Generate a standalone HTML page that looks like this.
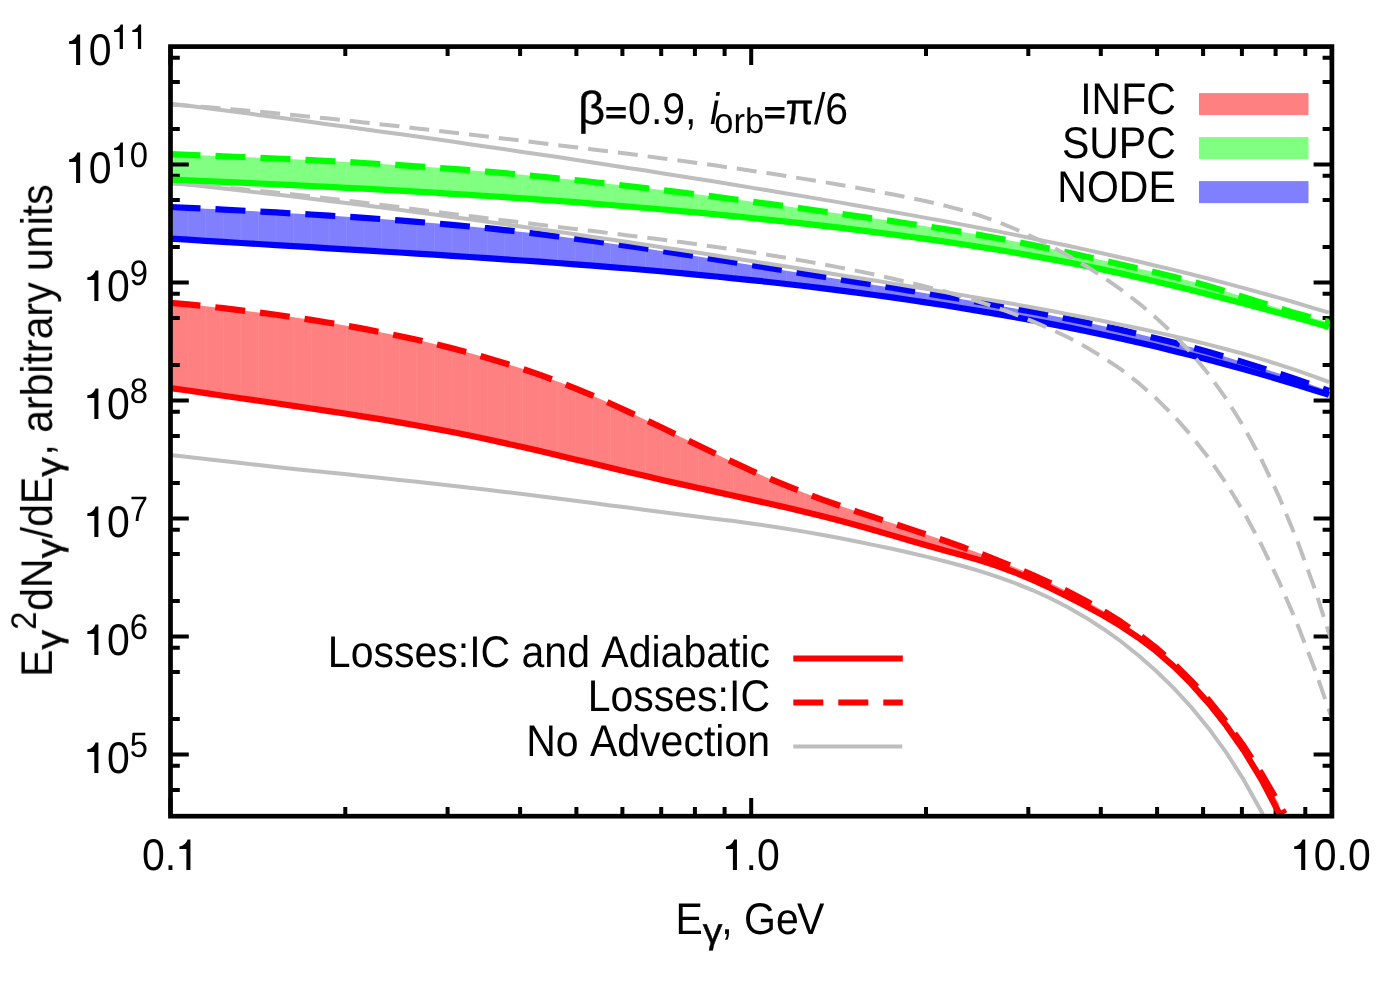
<!DOCTYPE html>
<html><head><meta charset="utf-8"><title>plot</title>
<style>html,body{margin:0;padding:0;background:#fff}svg{display:block}</style>
</head><body>
<svg width="1400" height="1000" viewBox="0 0 1400 1000">
<rect width="1400" height="1000" fill="#fff"/>
<defs>
<clipPath id="cp"><rect x="170.5" y="46.6" width="1161.4" height="769.6"/></clipPath>
<clipPath id="f0"><path d="M170.5,302.8 L188.1,304.4 L205.7,306.2 L223.3,308.2 L240.9,310.3 L258.5,312.5 L276.1,314.8 L293.7,317.3 L311.3,319.9 L328.9,322.7 L346.5,325.7 L364.1,328.9 L381.7,332.4 L399.3,336.0 L416.9,339.8 L434.5,343.9 L452.1,348.3 L469.6,352.9 L487.2,357.9 L504.8,363.2 L522.4,368.8 L540.0,374.9 L557.6,381.4 L575.2,388.3 L592.8,395.7 L610.4,403.5 L628.0,411.6 L645.6,419.9 L663.2,428.3 L680.8,436.9 L698.4,445.5 L716.0,454.0 L733.6,462.4 L751.2,470.6 L768.8,478.4 L786.4,485.7 L804.0,492.7 L821.6,499.3 L839.2,505.5 L856.8,511.6 L874.4,517.4 L892.0,523.1 L909.6,528.9 L927.2,534.8 L944.8,540.8 L962.4,547.0 L980.0,553.5 L997.6,560.3 L1015.2,567.5 L1032.8,575.0 L1050.3,583.0 L1067.9,591.5 L1085.5,600.7 L1103.1,610.7 L1120.7,621.7 L1138.3,634.0 L1155.9,647.7 L1173.5,663.2 L1191.1,680.6 L1208.7,700.1 L1226.3,721.9 L1243.9,746.4 L1261.5,773.6 L1279.1,803.9 L1280.0,814.9 L1279.1,813.1 L1261.5,779.6 L1243.9,750.7 L1226.3,725.6 L1208.7,703.4 L1191.1,683.6 L1173.5,666.1 L1155.9,650.9 L1138.3,637.6 L1120.7,625.9 L1103.1,615.4 L1085.5,605.8 L1067.9,596.7 L1050.3,588.0 L1032.8,579.9 L1015.2,572.5 L997.6,566.0 L980.0,560.3 L962.4,555.2 L944.8,550.5 L927.2,545.6 L909.6,540.5 L892.0,535.4 L874.4,530.2 L856.8,525.3 L839.2,520.6 L821.6,516.1 L804.0,511.8 L786.4,507.6 L768.8,503.6 L751.2,499.6 L733.6,495.8 L716.0,491.9 L698.4,488.0 L680.8,484.1 L663.2,480.2 L645.6,476.1 L628.0,472.0 L610.4,467.8 L592.8,463.6 L575.2,459.4 L557.6,455.2 L540.0,451.1 L522.4,447.0 L504.8,443.1 L487.2,439.2 L469.6,435.5 L452.1,432.0 L434.5,428.7 L416.9,425.5 L399.3,422.4 L381.7,419.4 L364.1,416.6 L346.5,413.8 L328.9,411.1 L311.3,408.5 L293.7,405.9 L276.1,403.3 L258.5,400.8 L240.9,398.3 L223.3,395.7 L205.7,393.1 L188.1,390.5 L170.5,388.1Z"/></clipPath>
<clipPath id="f1"><path d="M170.5,154.2 L188.1,154.8 L205.7,155.5 L223.3,156.3 L240.9,157.0 L258.5,157.7 L276.1,158.5 L293.7,159.3 L311.3,160.2 L328.9,161.1 L346.5,162.0 L364.1,163.0 L381.7,164.1 L399.3,165.2 L416.9,166.3 L434.5,167.6 L452.1,168.8 L469.6,170.2 L487.2,171.7 L504.8,173.2 L522.4,174.8 L540.0,176.5 L557.6,178.3 L575.2,180.1 L592.8,182.0 L610.4,184.0 L628.0,186.0 L645.6,188.1 L663.2,190.2 L680.8,192.4 L698.4,194.6 L716.0,196.9 L733.6,199.2 L751.2,201.6 L768.8,203.9 L786.4,206.3 L804.0,208.7 L821.6,211.2 L839.2,213.6 L856.8,216.1 L874.4,218.6 L892.0,221.1 L909.6,223.7 L927.2,226.4 L944.8,229.1 L962.4,232.0 L980.0,235.1 L997.6,238.2 L1015.2,241.6 L1032.8,245.1 L1050.3,248.8 L1067.9,252.6 L1085.5,256.5 L1103.1,260.4 L1120.7,264.4 L1138.3,268.4 L1155.9,272.4 L1173.5,276.7 L1191.1,281.3 L1208.7,286.2 L1226.3,291.5 L1243.9,297.1 L1261.5,302.7 L1279.1,308.3 L1296.7,313.6 L1314.3,318.4 L1329.0,321.9 L1329.0,327.0 L1314.3,322.7 L1296.7,317.8 L1279.1,312.9 L1261.5,308.2 L1243.9,303.6 L1226.3,299.0 L1208.7,294.5 L1191.1,290.1 L1173.5,285.8 L1155.9,281.5 L1138.3,277.4 L1120.7,273.4 L1103.1,269.6 L1085.5,265.9 L1067.9,262.4 L1050.3,259.1 L1032.8,255.9 L1015.2,252.8 L997.6,249.8 L980.0,247.0 L962.4,244.2 L944.8,241.6 L927.2,239.1 L909.6,236.7 L892.0,234.3 L874.4,232.1 L856.8,229.9 L839.2,227.7 L821.6,225.7 L804.0,223.7 L786.4,221.7 L768.8,219.8 L751.2,218.0 L733.6,216.2 L716.0,214.4 L698.4,212.7 L680.8,211.1 L663.2,209.5 L645.6,208.0 L628.0,206.5 L610.4,205.0 L592.8,203.6 L575.2,202.2 L557.6,200.9 L540.0,199.6 L522.4,198.4 L504.8,197.2 L487.2,196.0 L469.6,194.9 L452.1,193.8 L434.5,192.7 L416.9,191.6 L399.3,190.6 L381.7,189.6 L364.1,188.7 L346.5,187.8 L328.9,186.9 L311.3,186.0 L293.7,185.1 L276.1,184.3 L258.5,183.5 L240.9,182.7 L223.3,181.9 L205.7,181.1 L188.1,180.4 L170.5,179.7Z"/></clipPath>
<clipPath id="f2"><path d="M170.5,207.0 L188.1,207.8 L205.7,208.7 L223.3,209.6 L240.9,210.5 L258.5,211.5 L276.1,212.4 L293.7,213.5 L311.3,214.5 L328.9,215.6 L346.5,216.7 L364.1,217.9 L381.7,219.1 L399.3,220.4 L416.9,221.8 L434.5,223.3 L452.1,224.8 L469.6,226.5 L487.2,228.2 L504.8,230.1 L522.4,232.0 L540.0,234.1 L557.6,236.3 L575.2,238.6 L592.8,241.0 L610.4,243.4 L628.0,245.9 L645.6,248.5 L663.2,251.2 L680.8,253.9 L698.4,256.6 L716.0,259.4 L733.6,262.2 L751.2,265.0 L768.8,267.9 L786.4,270.7 L804.0,273.6 L821.6,276.5 L839.2,279.3 L856.8,282.1 L874.4,284.9 L892.0,287.8 L909.6,290.6 L927.2,293.5 L944.8,296.4 L962.4,299.3 L980.0,302.3 L997.6,305.4 L1015.2,308.6 L1032.8,311.8 L1050.3,315.2 L1067.9,318.7 L1085.5,322.3 L1103.1,326.0 L1120.7,329.9 L1138.3,334.0 L1155.9,338.2 L1173.5,342.6 L1191.1,347.2 L1208.7,352.0 L1226.3,357.1 L1243.9,362.4 L1261.5,367.9 L1279.1,373.6 L1296.7,379.5 L1314.3,385.7 L1329.0,390.9 L1329.0,394.9 L1314.3,390.2 L1296.7,384.7 L1279.1,379.4 L1261.5,374.3 L1243.9,369.3 L1226.3,364.5 L1208.7,359.8 L1191.1,355.3 L1173.5,350.9 L1155.9,346.6 L1138.3,342.5 L1120.7,338.5 L1103.1,334.7 L1085.5,331.0 L1067.9,327.4 L1050.3,323.9 L1032.8,320.5 L1015.2,317.3 L997.6,314.1 L980.0,311.1 L962.4,308.2 L944.8,305.3 L927.2,302.6 L909.6,300.0 L892.0,297.4 L874.4,295.0 L856.8,292.6 L839.2,290.3 L821.6,288.1 L804.0,286.0 L786.4,284.0 L768.8,282.0 L751.2,280.1 L733.6,278.3 L716.0,276.5 L698.4,274.8 L680.8,273.1 L663.2,271.5 L645.6,270.0 L628.0,268.5 L610.4,267.1 L592.8,265.7 L575.2,264.3 L557.6,263.0 L540.0,261.7 L522.4,260.5 L504.8,259.3 L487.2,258.1 L469.6,257.0 L452.1,255.8 L434.5,254.7 L416.9,253.6 L399.3,252.5 L381.7,251.5 L364.1,250.4 L346.5,249.3 L328.9,248.3 L311.3,247.2 L293.7,246.2 L276.1,245.1 L258.5,244.0 L240.9,243.0 L223.3,241.9 L205.7,240.8 L188.1,239.6 L170.5,238.6Z"/></clipPath>
</defs>
<g clip-path="url(#cp)">
<path d="M170.5,302.8 L188.1,304.4 L205.7,306.2 L223.3,308.2 L240.9,310.3 L258.5,312.5 L276.1,314.8 L293.7,317.3 L311.3,319.9 L328.9,322.7 L346.5,325.7 L364.1,328.9 L381.7,332.4 L399.3,336.0 L416.9,339.8 L434.5,343.9 L452.1,348.3 L469.6,352.9 L487.2,357.9 L504.8,363.2 L522.4,368.8 L540.0,374.9 L557.6,381.4 L575.2,388.3 L592.8,395.7 L610.4,403.5 L628.0,411.6 L645.6,419.9 L663.2,428.3 L680.8,436.9 L698.4,445.5 L716.0,454.0 L733.6,462.4 L751.2,470.6 L768.8,478.4 L786.4,485.7 L804.0,492.7 L821.6,499.3 L839.2,505.5 L856.8,511.6 L874.4,517.4 L892.0,523.1 L909.6,528.9 L927.2,534.8 L944.8,540.8 L962.4,547.0 L980.0,553.5 L997.6,560.3 L1015.2,567.5 L1032.8,575.0 L1050.3,583.0 L1067.9,591.5 L1085.5,600.7 L1103.1,610.7 L1120.7,621.7 L1138.3,634.0 L1155.9,647.7 L1173.5,663.2 L1191.1,680.6 L1208.7,700.1 L1226.3,721.9 L1243.9,746.4 L1261.5,773.6 L1279.1,803.9 L1280.0,814.9 L1279.1,813.1 L1261.5,779.6 L1243.9,750.7 L1226.3,725.6 L1208.7,703.4 L1191.1,683.6 L1173.5,666.1 L1155.9,650.9 L1138.3,637.6 L1120.7,625.9 L1103.1,615.4 L1085.5,605.8 L1067.9,596.7 L1050.3,588.0 L1032.8,579.9 L1015.2,572.5 L997.6,566.0 L980.0,560.3 L962.4,555.2 L944.8,550.5 L927.2,545.6 L909.6,540.5 L892.0,535.4 L874.4,530.2 L856.8,525.3 L839.2,520.6 L821.6,516.1 L804.0,511.8 L786.4,507.6 L768.8,503.6 L751.2,499.6 L733.6,495.8 L716.0,491.9 L698.4,488.0 L680.8,484.1 L663.2,480.2 L645.6,476.1 L628.0,472.0 L610.4,467.8 L592.8,463.6 L575.2,459.4 L557.6,455.2 L540.0,451.1 L522.4,447.0 L504.8,443.1 L487.2,439.2 L469.6,435.5 L452.1,432.0 L434.5,428.7 L416.9,425.5 L399.3,422.4 L381.7,419.4 L364.1,416.6 L346.5,413.8 L328.9,411.1 L311.3,408.5 L293.7,405.9 L276.1,403.3 L258.5,400.8 L240.9,398.3 L223.3,395.7 L205.7,393.1 L188.1,390.5 L170.5,388.1Z" fill="#ff8080"/>
<path d="M188.1,46.6V816.2 M205.7,46.6V816.2 M223.3,46.6V816.2 M240.9,46.6V816.2 M258.5,46.6V816.2 M276.1,46.6V816.2 M293.7,46.6V816.2 M311.3,46.6V816.2 M328.9,46.6V816.2 M346.5,46.6V816.2 M364.1,46.6V816.2 M381.7,46.6V816.2 M399.3,46.6V816.2 M416.9,46.6V816.2 M434.5,46.6V816.2 M452.1,46.6V816.2 M469.6,46.6V816.2 M487.2,46.6V816.2 M504.8,46.6V816.2 M522.4,46.6V816.2 M540.0,46.6V816.2 M557.6,46.6V816.2 M575.2,46.6V816.2 M592.8,46.6V816.2 M610.4,46.6V816.2 M628.0,46.6V816.2 M645.6,46.6V816.2 M663.2,46.6V816.2 M680.8,46.6V816.2 M698.4,46.6V816.2 M716.0,46.6V816.2 M733.6,46.6V816.2 M751.2,46.6V816.2 M768.8,46.6V816.2 M786.4,46.6V816.2 M804.0,46.6V816.2 M821.6,46.6V816.2 M839.2,46.6V816.2 M856.8,46.6V816.2 M874.4,46.6V816.2 M892.0,46.6V816.2 M909.6,46.6V816.2 M927.2,46.6V816.2 M944.8,46.6V816.2 M962.4,46.6V816.2 M980.0,46.6V816.2 M997.6,46.6V816.2 M1015.2,46.6V816.2 M1032.8,46.6V816.2 M1050.3,46.6V816.2 M1067.9,46.6V816.2 M1085.5,46.6V816.2 M1103.1,46.6V816.2 M1120.7,46.6V816.2 M1138.3,46.6V816.2 M1155.9,46.6V816.2 M1173.5,46.6V816.2 M1191.1,46.6V816.2 M1208.7,46.6V816.2 M1226.3,46.6V816.2 M1243.9,46.6V816.2 M1261.5,46.6V816.2 M1279.1,46.6V816.2 M1296.7,46.6V816.2 M1314.3,46.6V816.2" stroke="#fff" stroke-opacity="0.07" stroke-width="1" fill="none" clip-path="url(#f0)"/>
<path d="M170.5,154.2 L188.1,154.8 L205.7,155.5 L223.3,156.3 L240.9,157.0 L258.5,157.7 L276.1,158.5 L293.7,159.3 L311.3,160.2 L328.9,161.1 L346.5,162.0 L364.1,163.0 L381.7,164.1 L399.3,165.2 L416.9,166.3 L434.5,167.6 L452.1,168.8 L469.6,170.2 L487.2,171.7 L504.8,173.2 L522.4,174.8 L540.0,176.5 L557.6,178.3 L575.2,180.1 L592.8,182.0 L610.4,184.0 L628.0,186.0 L645.6,188.1 L663.2,190.2 L680.8,192.4 L698.4,194.6 L716.0,196.9 L733.6,199.2 L751.2,201.6 L768.8,203.9 L786.4,206.3 L804.0,208.7 L821.6,211.2 L839.2,213.6 L856.8,216.1 L874.4,218.6 L892.0,221.1 L909.6,223.7 L927.2,226.4 L944.8,229.1 L962.4,232.0 L980.0,235.1 L997.6,238.2 L1015.2,241.6 L1032.8,245.1 L1050.3,248.8 L1067.9,252.6 L1085.5,256.5 L1103.1,260.4 L1120.7,264.4 L1138.3,268.4 L1155.9,272.4 L1173.5,276.7 L1191.1,281.3 L1208.7,286.2 L1226.3,291.5 L1243.9,297.1 L1261.5,302.7 L1279.1,308.3 L1296.7,313.6 L1314.3,318.4 L1329.0,321.9 L1329.0,327.0 L1314.3,322.7 L1296.7,317.8 L1279.1,312.9 L1261.5,308.2 L1243.9,303.6 L1226.3,299.0 L1208.7,294.5 L1191.1,290.1 L1173.5,285.8 L1155.9,281.5 L1138.3,277.4 L1120.7,273.4 L1103.1,269.6 L1085.5,265.9 L1067.9,262.4 L1050.3,259.1 L1032.8,255.9 L1015.2,252.8 L997.6,249.8 L980.0,247.0 L962.4,244.2 L944.8,241.6 L927.2,239.1 L909.6,236.7 L892.0,234.3 L874.4,232.1 L856.8,229.9 L839.2,227.7 L821.6,225.7 L804.0,223.7 L786.4,221.7 L768.8,219.8 L751.2,218.0 L733.6,216.2 L716.0,214.4 L698.4,212.7 L680.8,211.1 L663.2,209.5 L645.6,208.0 L628.0,206.5 L610.4,205.0 L592.8,203.6 L575.2,202.2 L557.6,200.9 L540.0,199.6 L522.4,198.4 L504.8,197.2 L487.2,196.0 L469.6,194.9 L452.1,193.8 L434.5,192.7 L416.9,191.6 L399.3,190.6 L381.7,189.6 L364.1,188.7 L346.5,187.8 L328.9,186.9 L311.3,186.0 L293.7,185.1 L276.1,184.3 L258.5,183.5 L240.9,182.7 L223.3,181.9 L205.7,181.1 L188.1,180.4 L170.5,179.7Z" fill="#80ff80"/>
<path d="M188.1,46.6V816.2 M205.7,46.6V816.2 M223.3,46.6V816.2 M240.9,46.6V816.2 M258.5,46.6V816.2 M276.1,46.6V816.2 M293.7,46.6V816.2 M311.3,46.6V816.2 M328.9,46.6V816.2 M346.5,46.6V816.2 M364.1,46.6V816.2 M381.7,46.6V816.2 M399.3,46.6V816.2 M416.9,46.6V816.2 M434.5,46.6V816.2 M452.1,46.6V816.2 M469.6,46.6V816.2 M487.2,46.6V816.2 M504.8,46.6V816.2 M522.4,46.6V816.2 M540.0,46.6V816.2 M557.6,46.6V816.2 M575.2,46.6V816.2 M592.8,46.6V816.2 M610.4,46.6V816.2 M628.0,46.6V816.2 M645.6,46.6V816.2 M663.2,46.6V816.2 M680.8,46.6V816.2 M698.4,46.6V816.2 M716.0,46.6V816.2 M733.6,46.6V816.2 M751.2,46.6V816.2 M768.8,46.6V816.2 M786.4,46.6V816.2 M804.0,46.6V816.2 M821.6,46.6V816.2 M839.2,46.6V816.2 M856.8,46.6V816.2 M874.4,46.6V816.2 M892.0,46.6V816.2 M909.6,46.6V816.2 M927.2,46.6V816.2 M944.8,46.6V816.2 M962.4,46.6V816.2 M980.0,46.6V816.2 M997.6,46.6V816.2 M1015.2,46.6V816.2 M1032.8,46.6V816.2 M1050.3,46.6V816.2 M1067.9,46.6V816.2 M1085.5,46.6V816.2 M1103.1,46.6V816.2 M1120.7,46.6V816.2 M1138.3,46.6V816.2 M1155.9,46.6V816.2 M1173.5,46.6V816.2 M1191.1,46.6V816.2 M1208.7,46.6V816.2 M1226.3,46.6V816.2 M1243.9,46.6V816.2 M1261.5,46.6V816.2 M1279.1,46.6V816.2 M1296.7,46.6V816.2 M1314.3,46.6V816.2" stroke="#fff" stroke-opacity="0.07" stroke-width="1" fill="none" clip-path="url(#f1)"/>
<path d="M170.5,207.0 L188.1,207.8 L205.7,208.7 L223.3,209.6 L240.9,210.5 L258.5,211.5 L276.1,212.4 L293.7,213.5 L311.3,214.5 L328.9,215.6 L346.5,216.7 L364.1,217.9 L381.7,219.1 L399.3,220.4 L416.9,221.8 L434.5,223.3 L452.1,224.8 L469.6,226.5 L487.2,228.2 L504.8,230.1 L522.4,232.0 L540.0,234.1 L557.6,236.3 L575.2,238.6 L592.8,241.0 L610.4,243.4 L628.0,245.9 L645.6,248.5 L663.2,251.2 L680.8,253.9 L698.4,256.6 L716.0,259.4 L733.6,262.2 L751.2,265.0 L768.8,267.9 L786.4,270.7 L804.0,273.6 L821.6,276.5 L839.2,279.3 L856.8,282.1 L874.4,284.9 L892.0,287.8 L909.6,290.6 L927.2,293.5 L944.8,296.4 L962.4,299.3 L980.0,302.3 L997.6,305.4 L1015.2,308.6 L1032.8,311.8 L1050.3,315.2 L1067.9,318.7 L1085.5,322.3 L1103.1,326.0 L1120.7,329.9 L1138.3,334.0 L1155.9,338.2 L1173.5,342.6 L1191.1,347.2 L1208.7,352.0 L1226.3,357.1 L1243.9,362.4 L1261.5,367.9 L1279.1,373.6 L1296.7,379.5 L1314.3,385.7 L1329.0,390.9 L1329.0,394.9 L1314.3,390.2 L1296.7,384.7 L1279.1,379.4 L1261.5,374.3 L1243.9,369.3 L1226.3,364.5 L1208.7,359.8 L1191.1,355.3 L1173.5,350.9 L1155.9,346.6 L1138.3,342.5 L1120.7,338.5 L1103.1,334.7 L1085.5,331.0 L1067.9,327.4 L1050.3,323.9 L1032.8,320.5 L1015.2,317.3 L997.6,314.1 L980.0,311.1 L962.4,308.2 L944.8,305.3 L927.2,302.6 L909.6,300.0 L892.0,297.4 L874.4,295.0 L856.8,292.6 L839.2,290.3 L821.6,288.1 L804.0,286.0 L786.4,284.0 L768.8,282.0 L751.2,280.1 L733.6,278.3 L716.0,276.5 L698.4,274.8 L680.8,273.1 L663.2,271.5 L645.6,270.0 L628.0,268.5 L610.4,267.1 L592.8,265.7 L575.2,264.3 L557.6,263.0 L540.0,261.7 L522.4,260.5 L504.8,259.3 L487.2,258.1 L469.6,257.0 L452.1,255.8 L434.5,254.7 L416.9,253.6 L399.3,252.5 L381.7,251.5 L364.1,250.4 L346.5,249.3 L328.9,248.3 L311.3,247.2 L293.7,246.2 L276.1,245.1 L258.5,244.0 L240.9,243.0 L223.3,241.9 L205.7,240.8 L188.1,239.6 L170.5,238.6Z" fill="#8080ff"/>
<path d="M188.1,46.6V816.2 M205.7,46.6V816.2 M223.3,46.6V816.2 M240.9,46.6V816.2 M258.5,46.6V816.2 M276.1,46.6V816.2 M293.7,46.6V816.2 M311.3,46.6V816.2 M328.9,46.6V816.2 M346.5,46.6V816.2 M364.1,46.6V816.2 M381.7,46.6V816.2 M399.3,46.6V816.2 M416.9,46.6V816.2 M434.5,46.6V816.2 M452.1,46.6V816.2 M469.6,46.6V816.2 M487.2,46.6V816.2 M504.8,46.6V816.2 M522.4,46.6V816.2 M540.0,46.6V816.2 M557.6,46.6V816.2 M575.2,46.6V816.2 M592.8,46.6V816.2 M610.4,46.6V816.2 M628.0,46.6V816.2 M645.6,46.6V816.2 M663.2,46.6V816.2 M680.8,46.6V816.2 M698.4,46.6V816.2 M716.0,46.6V816.2 M733.6,46.6V816.2 M751.2,46.6V816.2 M768.8,46.6V816.2 M786.4,46.6V816.2 M804.0,46.6V816.2 M821.6,46.6V816.2 M839.2,46.6V816.2 M856.8,46.6V816.2 M874.4,46.6V816.2 M892.0,46.6V816.2 M909.6,46.6V816.2 M927.2,46.6V816.2 M944.8,46.6V816.2 M962.4,46.6V816.2 M980.0,46.6V816.2 M997.6,46.6V816.2 M1015.2,46.6V816.2 M1032.8,46.6V816.2 M1050.3,46.6V816.2 M1067.9,46.6V816.2 M1085.5,46.6V816.2 M1103.1,46.6V816.2 M1120.7,46.6V816.2 M1138.3,46.6V816.2 M1155.9,46.6V816.2 M1173.5,46.6V816.2 M1191.1,46.6V816.2 M1208.7,46.6V816.2 M1226.3,46.6V816.2 M1243.9,46.6V816.2 M1261.5,46.6V816.2 M1279.1,46.6V816.2 M1296.7,46.6V816.2 M1314.3,46.6V816.2" stroke="#fff" stroke-opacity="0.07" stroke-width="1" fill="none" clip-path="url(#f2)"/>
</g>
<path d="M170.5,754.4h18.3 M1331.9,754.4h-18.3 M170.5,789.9h9.3 M1331.9,789.9h-9.3 M170.5,765.8h9.3 M1331.9,765.8h-9.3 M170.5,636.4h18.3 M1331.9,636.4h-18.3 M170.5,718.9h9.3 M1331.9,718.9h-9.3 M170.5,671.9h9.3 M1331.9,671.9h-9.3 M170.5,647.8h9.3 M1331.9,647.8h-9.3 M170.5,518.4h18.3 M1331.9,518.4h-18.3 M170.5,600.9h9.3 M1331.9,600.9h-9.3 M170.5,553.9h9.3 M1331.9,553.9h-9.3 M170.5,529.8h9.3 M1331.9,529.8h-9.3 M170.5,400.4h18.3 M1331.9,400.4h-18.3 M170.5,482.9h9.3 M1331.9,482.9h-9.3 M170.5,435.9h9.3 M1331.9,435.9h-9.3 M170.5,411.8h9.3 M1331.9,411.8h-9.3 M170.5,282.4h18.3 M1331.9,282.4h-18.3 M170.5,364.9h9.3 M1331.9,364.9h-9.3 M170.5,317.9h9.3 M1331.9,317.9h-9.3 M170.5,293.8h9.3 M1331.9,293.8h-9.3 M170.5,164.4h18.3 M1331.9,164.4h-18.3 M170.5,246.9h9.3 M1331.9,246.9h-9.3 M170.5,199.9h9.3 M1331.9,199.9h-9.3 M170.5,175.8h9.3 M1331.9,175.8h-9.3 M170.5,128.9h9.3 M1331.9,128.9h-9.3 M170.5,81.9h9.3 M1331.9,81.9h-9.3 M170.5,57.8h9.3 M1331.9,57.8h-9.3 M170.5,816.2v-18.3 M170.5,46.6v18.3 M345.3,816.2v-9.3 M345.3,46.6v9.3 M447.6,816.2v-9.3 M447.6,46.6v9.3 M520.1,816.2v-9.3 M520.1,46.6v9.3 M576.4,816.2v-9.3 M576.4,46.6v9.3 M622.4,816.2v-9.3 M622.4,46.6v9.3 M661.2,816.2v-9.3 M661.2,46.6v9.3 M694.9,816.2v-9.3 M694.9,46.6v9.3 M724.6,816.2v-9.3 M724.6,46.6v9.3 M751.2,816.2v-18.3 M751.2,46.6v18.3 M926.0,816.2v-9.3 M926.0,46.6v9.3 M1028.3,816.2v-9.3 M1028.3,46.6v9.3 M1100.8,816.2v-9.3 M1100.8,46.6v9.3 M1157.1,816.2v-9.3 M1157.1,46.6v9.3 M1203.1,816.2v-9.3 M1203.1,46.6v9.3 M1241.9,816.2v-9.3 M1241.9,46.6v9.3 M1275.6,816.2v-9.3 M1275.6,46.6v9.3 M1305.3,816.2v-9.3 M1305.3,46.6v9.3 M1331.9,816.2v-18.3 M1331.9,46.6v18.3" stroke="#000" stroke-width="4.0" fill="none"/>
<g clip-path="url(#cp)" fill="none" stroke-linejoin="round">
<path d="M170.5,388.1 L188.1,390.5 L205.7,393.1 L223.3,395.7 L240.9,398.3 L258.5,400.8 L276.1,403.3 L293.7,405.9 L311.3,408.5 L328.9,411.1 L346.5,413.8 L364.1,416.6 L381.7,419.4 L399.3,422.4 L416.9,425.5 L434.5,428.7 L452.1,432.0 L469.6,435.5 L487.2,439.2 L504.8,443.1 L522.4,447.0 L540.0,451.1 L557.6,455.2 L575.2,459.4 L592.8,463.6 L610.4,467.8 L628.0,472.0 L645.6,476.1 L663.2,480.2 L680.8,484.1 L698.4,488.0 L716.0,491.9 L733.6,495.8 L751.2,499.6 L768.8,503.6 L786.4,507.6 L804.0,511.8 L821.6,516.1 L839.2,520.6 L856.8,525.3 L874.4,530.2 L892.0,535.4 L909.6,540.5 L927.2,545.6 L944.8,550.5 L962.4,555.2 L980.0,560.3 L997.6,566.0 L1015.2,572.5 L1032.8,579.9 L1050.3,588.0 L1067.9,596.7 L1085.5,605.8 L1103.1,615.4 L1120.7,625.9 L1138.3,637.6 L1155.9,650.9 L1173.5,666.1 L1191.1,683.6 L1208.7,703.4 L1226.3,725.6 L1243.9,750.7 L1261.5,779.6 L1279.1,813.1 L1280.0,814.9" stroke="#ff0000" stroke-width="6.2"/>
<path d="M170.5,302.8 L188.1,304.4 L205.7,306.2 L223.3,308.2 L240.9,310.3 L258.5,312.5 L276.1,314.8 L293.7,317.3 L311.3,319.9 L328.9,322.7 L346.5,325.7 L364.1,328.9 L381.7,332.4 L399.3,336.0 L416.9,339.8 L434.5,343.9 L452.1,348.3 L469.6,352.9 L487.2,357.9 L504.8,363.2 L522.4,368.8 L540.0,374.9 L557.6,381.4 L575.2,388.3 L592.8,395.7 L610.4,403.5 L628.0,411.6 L645.6,419.9 L663.2,428.3 L680.8,436.9 L698.4,445.5 L716.0,454.0 L733.6,462.4 L751.2,470.6 L768.8,478.4 L786.4,485.7 L804.0,492.7 L821.6,499.3 L839.2,505.5 L856.8,511.6 L874.4,517.4 L892.0,523.1 L909.6,528.9 L927.2,534.8 L944.8,540.8 L962.4,547.0 L980.0,553.5 L997.6,560.3 L1015.2,567.5 L1032.8,575.0 L1050.3,583.0 L1067.9,591.5 L1085.5,600.7 L1103.1,610.7 L1120.7,621.7 L1138.3,634.0 L1155.9,647.7 L1173.5,663.2 L1191.1,680.6 L1208.7,700.1 L1226.3,721.9 L1243.9,746.4 L1261.5,773.6 L1279.1,803.9 L1284.5,813.8" stroke="#ff0000" stroke-width="6.2" stroke-dasharray="30 15"/>
<path d="M170.5,455.0 L188.1,456.9 L205.7,459.0 L223.3,461.1 L240.9,463.1 L258.5,465.1 L276.1,467.0 L293.7,468.9 L311.3,470.7 L328.9,472.5 L346.5,474.3 L364.1,476.2 L381.7,478.0 L399.3,479.9 L416.9,481.8 L434.5,483.7 L452.1,485.7 L469.6,487.7 L487.2,489.8 L504.8,491.9 L522.4,494.1 L540.0,496.3 L557.6,498.6 L575.2,500.8 L592.8,503.1 L610.4,505.4 L628.0,507.6 L645.6,509.9 L663.2,512.2 L680.8,514.4 L698.4,516.7 L716.0,518.9 L733.6,521.1 L751.2,523.5 L768.8,526.0 L786.4,528.7 L804.0,531.6 L821.6,534.7 L839.2,538.0 L856.8,541.5 L874.4,545.1 L892.0,548.8 L909.6,552.8 L927.2,556.9 L944.8,561.3 L962.4,566.0 L980.0,571.1 L997.6,576.8 L1015.2,583.2 L1032.8,590.3 L1050.3,598.3 L1067.9,607.3 L1085.5,617.4 L1103.1,628.7 L1120.7,641.2 L1138.3,655.3 L1155.9,670.8 L1173.5,687.9 L1191.1,707.0 L1208.7,728.4 L1226.3,752.6 L1243.9,780.2 L1261.5,811.7 L1263.0,814.5" stroke="#bebebe" stroke-width="4.0"/>
<path d="M170.5,238.6 L188.1,239.6 L205.7,240.8 L223.3,241.9 L240.9,243.0 L258.5,244.0 L276.1,245.1 L293.7,246.2 L311.3,247.2 L328.9,248.3 L346.5,249.3 L364.1,250.4 L381.7,251.5 L399.3,252.5 L416.9,253.6 L434.5,254.7 L452.1,255.8 L469.6,257.0 L487.2,258.1 L504.8,259.3 L522.4,260.5 L540.0,261.7 L557.6,263.0 L575.2,264.3 L592.8,265.7 L610.4,267.1 L628.0,268.5 L645.6,270.0 L663.2,271.5 L680.8,273.1 L698.4,274.8 L716.0,276.5 L733.6,278.3 L751.2,280.1 L768.8,282.0 L786.4,284.0 L804.0,286.0 L821.6,288.1 L839.2,290.3 L856.8,292.6 L874.4,295.0 L892.0,297.4 L909.6,300.0 L927.2,302.6 L944.8,305.3 L962.4,308.2 L980.0,311.1 L997.6,314.1 L1015.2,317.3 L1032.8,320.5 L1050.3,323.9 L1067.9,327.4 L1085.5,331.0 L1103.1,334.7 L1120.7,338.5 L1138.3,342.5 L1155.9,346.6 L1173.5,350.9 L1191.1,355.3 L1208.7,359.8 L1226.3,364.5 L1243.9,369.3 L1261.5,374.3 L1279.1,379.4 L1296.7,384.7 L1314.3,390.2 L1329.0,394.9" stroke="#0000ff" stroke-width="6.2"/>
<path d="M170.5,207.0 L188.1,207.8 L205.7,208.7 L223.3,209.6 L240.9,210.5 L258.5,211.5 L276.1,212.4 L293.7,213.5 L311.3,214.5 L328.9,215.6 L346.5,216.7 L364.1,217.9 L381.7,219.1 L399.3,220.4 L416.9,221.8 L434.5,223.3 L452.1,224.8 L469.6,226.5 L487.2,228.2 L504.8,230.1 L522.4,232.0 L540.0,234.1 L557.6,236.3 L575.2,238.6 L592.8,241.0 L610.4,243.4 L628.0,245.9 L645.6,248.5 L663.2,251.2 L680.8,253.9 L698.4,256.6 L716.0,259.4 L733.6,262.2 L751.2,265.0 L768.8,267.9 L786.4,270.7 L804.0,273.6 L821.6,276.5 L839.2,279.3 L856.8,282.1 L874.4,284.9 L892.0,287.8 L909.6,290.6 L927.2,293.5 L944.8,296.4 L962.4,299.3 L980.0,302.3 L997.6,305.4 L1015.2,308.6 L1032.8,311.8 L1050.3,315.2 L1067.9,318.7 L1085.5,322.3 L1103.1,326.0 L1120.7,329.9 L1138.3,334.0 L1155.9,338.2 L1173.5,342.6 L1191.1,347.2 L1208.7,352.0 L1226.3,357.1 L1243.9,362.4 L1261.5,367.9 L1279.1,373.6 L1296.7,379.5 L1314.3,385.7 L1329.0,390.9" stroke="#0000ff" stroke-width="6.2" stroke-dasharray="30 15"/>
<path d="M170.5,183.0 L188.1,184.6 L205.7,186.5 L223.3,188.5 L240.9,190.4 L258.5,192.5 L276.1,194.5 L293.7,196.6 L311.3,198.7 L328.9,200.9 L346.5,203.1 L364.1,205.3 L381.7,207.5 L399.3,209.8 L416.9,212.2 L434.5,214.5 L452.1,216.9 L469.6,219.3 L487.2,221.7 L504.8,224.2 L522.4,226.7 L540.0,229.2 L557.6,231.7 L575.2,234.3 L592.8,236.9 L610.4,239.5 L628.0,242.1 L645.6,244.7 L663.2,247.4 L680.8,250.1 L698.4,252.8 L716.0,255.5 L733.6,258.2 L751.2,261.0 L768.8,263.7 L786.4,266.5 L804.0,269.3 L821.6,272.1 L839.2,274.9 L856.8,277.7 L874.4,280.5 L892.0,283.4 L909.6,286.2 L927.2,289.1 L944.8,292.1 L962.4,295.1 L980.0,298.1 L997.6,301.2 L1015.2,304.3 L1032.8,307.5 L1050.3,310.8 L1067.9,314.1 L1085.5,317.5 L1103.1,321.0 L1120.7,324.6 L1138.3,328.3 L1155.9,332.1 L1173.5,336.1 L1191.1,340.2 L1208.7,344.6 L1226.3,349.2 L1243.9,354.0 L1261.5,359.2 L1279.1,364.6 L1296.7,370.4 L1314.3,376.6 L1329.0,382.0" stroke="#bebebe" stroke-width="4.0"/>
<path d="M170.5,183.2 L188.1,184.5 L205.7,185.9 L223.3,187.4 L240.9,189.0 L258.5,190.7 L276.1,192.5 L293.7,194.4 L311.3,196.4 L328.9,198.5 L346.5,200.6 L364.1,202.7 L381.7,204.9 L399.3,207.1 L416.9,209.4 L434.5,211.6 L452.1,213.9 L469.6,216.1 L487.2,218.3 L504.8,220.5 L522.4,222.6 L540.0,224.8 L557.6,226.9 L575.2,229.0 L592.8,231.1 L610.4,233.2 L628.0,235.4 L645.6,237.6 L663.2,239.8 L680.8,242.1 L698.4,244.5 L716.0,247.0 L733.6,249.6 L751.2,252.2 L768.8,255.0 L786.4,257.9 L804.0,260.9 L821.6,264.1 L839.2,267.4 L856.8,270.9 L874.4,274.6 L892.0,278.5 L909.6,282.6 L927.2,286.9 L944.8,291.5 L962.4,296.6 L980.0,302.0 L997.6,307.9 L1015.2,314.3 L1032.8,321.3 L1050.3,328.9 L1067.9,337.3 L1085.5,346.7 L1103.1,357.3 L1120.7,369.2 L1138.3,382.8 L1155.9,398.1 L1173.5,415.6 L1191.1,435.4 L1208.7,457.9 L1226.3,483.5 L1243.9,512.4 L1261.5,545.0 L1279.1,581.6 L1296.7,622.5 L1314.3,668.0 L1331.9,718.4" stroke="#bebebe" stroke-width="4.0" stroke-dasharray="20 10"/>
<path d="M170.5,179.7 L188.1,180.4 L205.7,181.1 L223.3,181.9 L240.9,182.7 L258.5,183.5 L276.1,184.3 L293.7,185.1 L311.3,186.0 L328.9,186.9 L346.5,187.8 L364.1,188.7 L381.7,189.6 L399.3,190.6 L416.9,191.6 L434.5,192.7 L452.1,193.8 L469.6,194.9 L487.2,196.0 L504.8,197.2 L522.4,198.4 L540.0,199.6 L557.6,200.9 L575.2,202.2 L592.8,203.6 L610.4,205.0 L628.0,206.5 L645.6,208.0 L663.2,209.5 L680.8,211.1 L698.4,212.7 L716.0,214.4 L733.6,216.2 L751.2,218.0 L768.8,219.8 L786.4,221.7 L804.0,223.7 L821.6,225.7 L839.2,227.7 L856.8,229.9 L874.4,232.1 L892.0,234.3 L909.6,236.7 L927.2,239.1 L944.8,241.6 L962.4,244.2 L980.0,247.0 L997.6,249.8 L1015.2,252.8 L1032.8,255.9 L1050.3,259.1 L1067.9,262.4 L1085.5,265.9 L1103.1,269.6 L1120.7,273.4 L1138.3,277.4 L1155.9,281.5 L1173.5,285.8 L1191.1,290.1 L1208.7,294.5 L1226.3,299.0 L1243.9,303.6 L1261.5,308.2 L1279.1,312.9 L1296.7,317.8 L1314.3,322.7 L1329.0,327.0" stroke="#00ff00" stroke-width="6.2"/>
<path d="M170.5,154.2 L188.1,154.8 L205.7,155.5 L223.3,156.3 L240.9,157.0 L258.5,157.7 L276.1,158.5 L293.7,159.3 L311.3,160.2 L328.9,161.1 L346.5,162.0 L364.1,163.0 L381.7,164.1 L399.3,165.2 L416.9,166.3 L434.5,167.6 L452.1,168.8 L469.6,170.2 L487.2,171.7 L504.8,173.2 L522.4,174.8 L540.0,176.5 L557.6,178.3 L575.2,180.1 L592.8,182.0 L610.4,184.0 L628.0,186.0 L645.6,188.1 L663.2,190.2 L680.8,192.4 L698.4,194.6 L716.0,196.9 L733.6,199.2 L751.2,201.6 L768.8,203.9 L786.4,206.3 L804.0,208.7 L821.6,211.2 L839.2,213.6 L856.8,216.1 L874.4,218.6 L892.0,221.1 L909.6,223.7 L927.2,226.4 L944.8,229.1 L962.4,232.0 L980.0,235.1 L997.6,238.2 L1015.2,241.6 L1032.8,245.1 L1050.3,248.8 L1067.9,252.6 L1085.5,256.5 L1103.1,260.4 L1120.7,264.4 L1138.3,268.4 L1155.9,272.4 L1173.5,276.7 L1191.1,281.3 L1208.7,286.2 L1226.3,291.5 L1243.9,297.1 L1261.5,302.7 L1279.1,308.3 L1296.7,313.6 L1314.3,318.4 L1329.0,321.9" stroke="#00ff00" stroke-width="6.2" stroke-dasharray="30 15"/>
<path d="M170.5,103.7 L188.1,105.7 L205.7,108.0 L223.3,110.3 L240.9,112.6 L258.5,114.9 L276.1,117.3 L293.7,119.6 L311.3,122.0 L328.9,124.4 L346.5,126.8 L364.1,129.2 L381.7,131.7 L399.3,134.1 L416.9,136.6 L434.5,139.1 L452.1,141.6 L469.6,144.2 L487.2,146.7 L504.8,149.3 L522.4,151.9 L540.0,154.5 L557.6,157.1 L575.2,159.8 L592.8,162.5 L610.4,165.2 L628.0,167.9 L645.6,170.6 L663.2,173.4 L680.8,176.2 L698.4,179.0 L716.0,181.8 L733.6,184.7 L751.2,187.6 L768.8,190.5 L786.4,193.5 L804.0,196.4 L821.6,199.4 L839.2,202.4 L856.8,205.5 L874.4,208.6 L892.0,211.7 L909.6,214.9 L927.2,218.1 L944.8,221.3 L962.4,224.6 L980.0,228.0 L997.6,231.4 L1015.2,234.9 L1032.8,238.5 L1050.3,242.1 L1067.9,245.8 L1085.5,249.6 L1103.1,253.5 L1120.7,257.5 L1138.3,261.5 L1155.9,265.7 L1173.5,269.9 L1191.1,274.3 L1208.7,278.8 L1226.3,283.4 L1243.9,288.1 L1261.5,293.0 L1279.1,297.9 L1296.7,303.0 L1314.3,308.3 L1329.0,312.7" stroke="#bebebe" stroke-width="4.0"/>
<path d="M170.5,104.5 L188.1,105.8 L205.7,107.1 L223.3,108.6 L240.9,110.1 L258.5,111.7 L276.1,113.3 L293.7,115.0 L311.3,116.8 L328.9,118.6 L346.5,120.5 L364.1,122.4 L381.7,124.4 L399.3,126.3 L416.9,128.4 L434.5,130.4 L452.1,132.5 L469.6,134.5 L487.2,136.6 L504.8,138.7 L522.4,140.8 L540.0,143.0 L557.6,145.1 L575.2,147.2 L592.8,149.4 L610.4,151.6 L628.0,153.8 L645.6,156.1 L663.2,158.4 L680.8,160.7 L698.4,163.1 L716.0,165.6 L733.6,168.1 L751.2,170.7 L768.8,173.3 L786.4,176.0 L804.0,178.9 L821.6,181.7 L839.2,184.7 L856.8,187.8 L874.4,191.0 L892.0,194.3 L909.6,197.7 L927.2,201.5 L944.8,205.6 L962.4,210.3 L980.0,215.6 L997.6,221.9 L1015.2,229.0 L1032.8,237.0 L1050.3,245.8 L1067.9,255.4 L1085.5,265.8 L1103.1,277.1 L1120.7,289.4 L1138.3,302.8 L1155.9,317.6 L1173.5,334.1 L1191.1,352.8 L1208.7,374.2 L1226.3,398.8 L1243.9,427.1 L1261.5,459.6 L1279.1,496.8 L1296.7,539.2 L1314.3,587.5 L1331.9,642.3" stroke="#bebebe" stroke-width="4.0" stroke-dasharray="20 10"/>
</g>
<rect x="1199" y="93.1" width="109.5" height="22" fill="#ff8080"/>
<rect x="1199" y="137.1" width="109.5" height="22" fill="#80ff80"/>
<rect x="1199" y="181.1" width="109.5" height="22" fill="#8080ff"/>
<path d="M793.3,658.5H902.8" stroke="#ff0000" stroke-width="6.2"/>
<path d="M793.3,702.5H902.8" stroke="#ff0000" stroke-width="6.2" stroke-dasharray="30 15"/>
<path d="M793.3,746.6H902.3" stroke="#bebebe" stroke-width="4.0"/>
<rect x="170.5" y="46.6" width="1161.4" height="769.6" fill="none" stroke="#000" stroke-width="4.7"/>
<g font-family="Liberation Sans, sans-serif" font-size="41.0" fill="#000" opacity="0.999" style="font-kerning:none;text-rendering:geometricPrecision">
<g transform="translate(148.00,772.90)">
<path transform="translate(-60.65,0.00) scale(30.500,30.500)" d="M0.362,0V-1H0.27Q0.2,-0.8 0,-0.773V-0.688H0.229V0Z"/>
<text transform="translate(-41.04,0.00) scale(1.0,1.08)">0</text>
<text transform="translate(-18.24,-16.00) scale(1.0,1.08)" font-size="32.80">5</text>
</g>
<g transform="translate(148.00,654.90)">
<path transform="translate(-60.65,0.00) scale(30.500,30.500)" d="M0.362,0V-1H0.27Q0.2,-0.8 0,-0.773V-0.688H0.229V0Z"/>
<text transform="translate(-41.04,0.00) scale(1.0,1.08)">0</text>
<text transform="translate(-18.24,-16.00) scale(1.0,1.08)" font-size="32.80">6</text>
</g>
<g transform="translate(148.00,536.90)">
<path transform="translate(-60.65,0.00) scale(30.500,30.500)" d="M0.362,0V-1H0.27Q0.2,-0.8 0,-0.773V-0.688H0.229V0Z"/>
<text transform="translate(-41.04,0.00) scale(1.0,1.08)">0</text>
<text transform="translate(-18.24,-16.00) scale(1.0,1.08)" font-size="32.80">7</text>
</g>
<g transform="translate(148.00,418.90)">
<path transform="translate(-60.65,0.00) scale(30.500,30.500)" d="M0.362,0V-1H0.27Q0.2,-0.8 0,-0.773V-0.688H0.229V0Z"/>
<text transform="translate(-41.04,0.00) scale(1.0,1.08)">0</text>
<text transform="translate(-18.24,-16.00) scale(1.0,1.08)" font-size="32.80">8</text>
</g>
<g transform="translate(148.00,300.90)">
<path transform="translate(-60.65,0.00) scale(30.500,30.500)" d="M0.362,0V-1H0.27Q0.2,-0.8 0,-0.773V-0.688H0.229V0Z"/>
<text transform="translate(-41.04,0.00) scale(1.0,1.08)">0</text>
<text transform="translate(-18.24,-16.00) scale(1.0,1.08)" font-size="32.80">9</text>
</g>
<g transform="translate(148.00,182.90)">
<path transform="translate(-78.89,0.00) scale(30.500,30.500)" d="M0.362,0V-1H0.27Q0.2,-0.8 0,-0.773V-0.688H0.229V0Z"/>
<text transform="translate(-59.29,0.00) scale(1.0,1.08)">0</text>
<path transform="translate(-33.92,-16.00) scale(24.400,24.400)" d="M0.362,0V-1H0.27Q0.2,-0.8 0,-0.773V-0.688H0.229V0Z"/>
<text transform="translate(-18.24,-16.00) scale(1.0,1.08)" font-size="32.80">0</text>
</g>
<g transform="translate(148.00,64.90)">
<path transform="translate(-78.89,0.00) scale(30.500,30.500)" d="M0.362,0V-1H0.27Q0.2,-0.8 0,-0.773V-0.688H0.229V0Z"/>
<text transform="translate(-59.29,0.00) scale(1.0,1.08)">0</text>
<path transform="translate(-33.92,-16.00) scale(24.400,24.400)" d="M0.362,0V-1H0.27Q0.2,-0.8 0,-0.773V-0.688H0.229V0Z"/>
<path transform="translate(-15.68,-16.00) scale(24.400,24.400)" d="M0.362,0V-1H0.27Q0.2,-0.8 0,-0.773V-0.688H0.229V0Z"/>
</g>
<g transform="translate(170.50,870.00)">
<text transform="translate(-28.50,0.00) scale(1.0,1.08)">0.</text>
<path transform="translate(8.90,0.00) scale(30.500,30.500)" d="M0.362,0V-1H0.27Q0.2,-0.8 0,-0.773V-0.688H0.229V0Z"/>
</g>
<g transform="translate(751.20,870.00)">
<path transform="translate(-25.30,0.00) scale(30.500,30.500)" d="M0.362,0V-1H0.27Q0.2,-0.8 0,-0.773V-0.688H0.229V0Z"/>
<text transform="translate(-5.70,0.00) scale(1.0,1.08)">.0</text>
</g>
<g transform="translate(1330.90,870.00)">
<path transform="translate(-36.70,0.00) scale(30.500,30.500)" d="M0.362,0V-1H0.27Q0.2,-0.8 0,-0.773V-0.688H0.229V0Z"/>
<text transform="translate(-17.10,0.00) scale(1.0,1.08)">0.0</text>
</g>
<g transform="translate(675.50,934.40)">
<text transform="translate(0.00,0.00) scale(1.0,1.08)">E</text>
<text transform="translate(27.35,9.00) scale(1.2,1.08)" font-size="32.80" stroke="#000" stroke-width="0.40">γ</text>
<text transform="translate(45.83,0.00) scale(1.0,1.08)">, Ge</text>
<text transform="translate(121.50,0.00) scale(1.0,1.08)">V</text>
</g>
<g transform="translate(51.90,676.80) rotate(-90)">
<text transform="translate(0.00,0.00) scale(1.0,1.08)">E</text>
<text transform="translate(27.35,9.00) scale(1.2,1.08)" font-size="32.80" stroke="#000" stroke-width="0.40">γ</text>
<text transform="translate(47.03,-16.00) scale(1.0,1.08)" font-size="32.80">2</text>
<text transform="translate(65.97,0.00) scale(1.0,1.08)">dN</text>
<text transform="translate(118.38,9.00) scale(1.2,1.08)" font-size="32.80" stroke="#000" stroke-width="0.40">γ</text>
<text transform="translate(138.56,0.00) scale(1.0,1.08)">/dE</text>
<text transform="translate(200.10,9.00) scale(1.2,1.08)" font-size="32.80" stroke="#000" stroke-width="0.40">γ</text>
<text transform="translate(221.28,0.00) scale(1.0,1.08)">, arbitrary units</text>
</g>
<g transform="translate(581.00,123.60)">
<text transform="translate(-3.00,0.00) scale(1.05,1.03)" font-size="45.10" stroke="#000" stroke-width="0.29">β</text>
<path transform="translate(23.14,0.00) scale(1.000)" d="M2.2,-16.6h19.4v3.4h-19.4z M2.2,-8.6h19.4v3.4h-19.4z"/>
<text transform="translate(47.08,0.00) scale(1.0,1.08)">0.9, </text>
<text transform="translate(129.06,0.00) scale(1.0,1.08)" font-style="italic">i</text>
<text transform="translate(133.27,9.00) scale(1.05,1.08)" font-size="32.80">orb</text>
<path transform="translate(181.85,0.00) scale(1.000)" d="M2.2,-16.6h19.4v3.4h-19.4z M2.2,-8.6h19.4v3.4h-19.4z"/>
<text transform="translate(204.59,0.00) scale(1.0,1.08)" stroke="#000" stroke-width="0.34">π</text>
<text transform="translate(232.88,0.00) scale(1.0,1.08)">/6</text>
</g>
<g transform="translate(1175.80,113.90)">
<text transform="translate(-95.65,0.00) scale(1.0,1.08)">INFC</text>
</g>
<g transform="translate(1175.80,157.90)">
<text transform="translate(-113.91,0.00) scale(1.0,1.08)">SUPC</text>
</g>
<g transform="translate(1175.80,201.90)">
<text transform="translate(-118.46,0.00) scale(1.0,1.08)">NODE</text>
</g>
<g transform="translate(770.00,666.80)">
<text transform="translate(-442.15,0.00) scale(1.0,1.08)">Losses:IC and Adiabatic</text>
</g>
<g transform="translate(770.00,711.30)">
<text transform="translate(-182.30,0.00) scale(1.0,1.08)">Losses:IC</text>
</g>
<g transform="translate(770.00,755.80)">
<text transform="translate(-243.86,0.00) scale(1.0,1.08)">No Advection</text>
</g>
</g>
</svg>
</body></html>
